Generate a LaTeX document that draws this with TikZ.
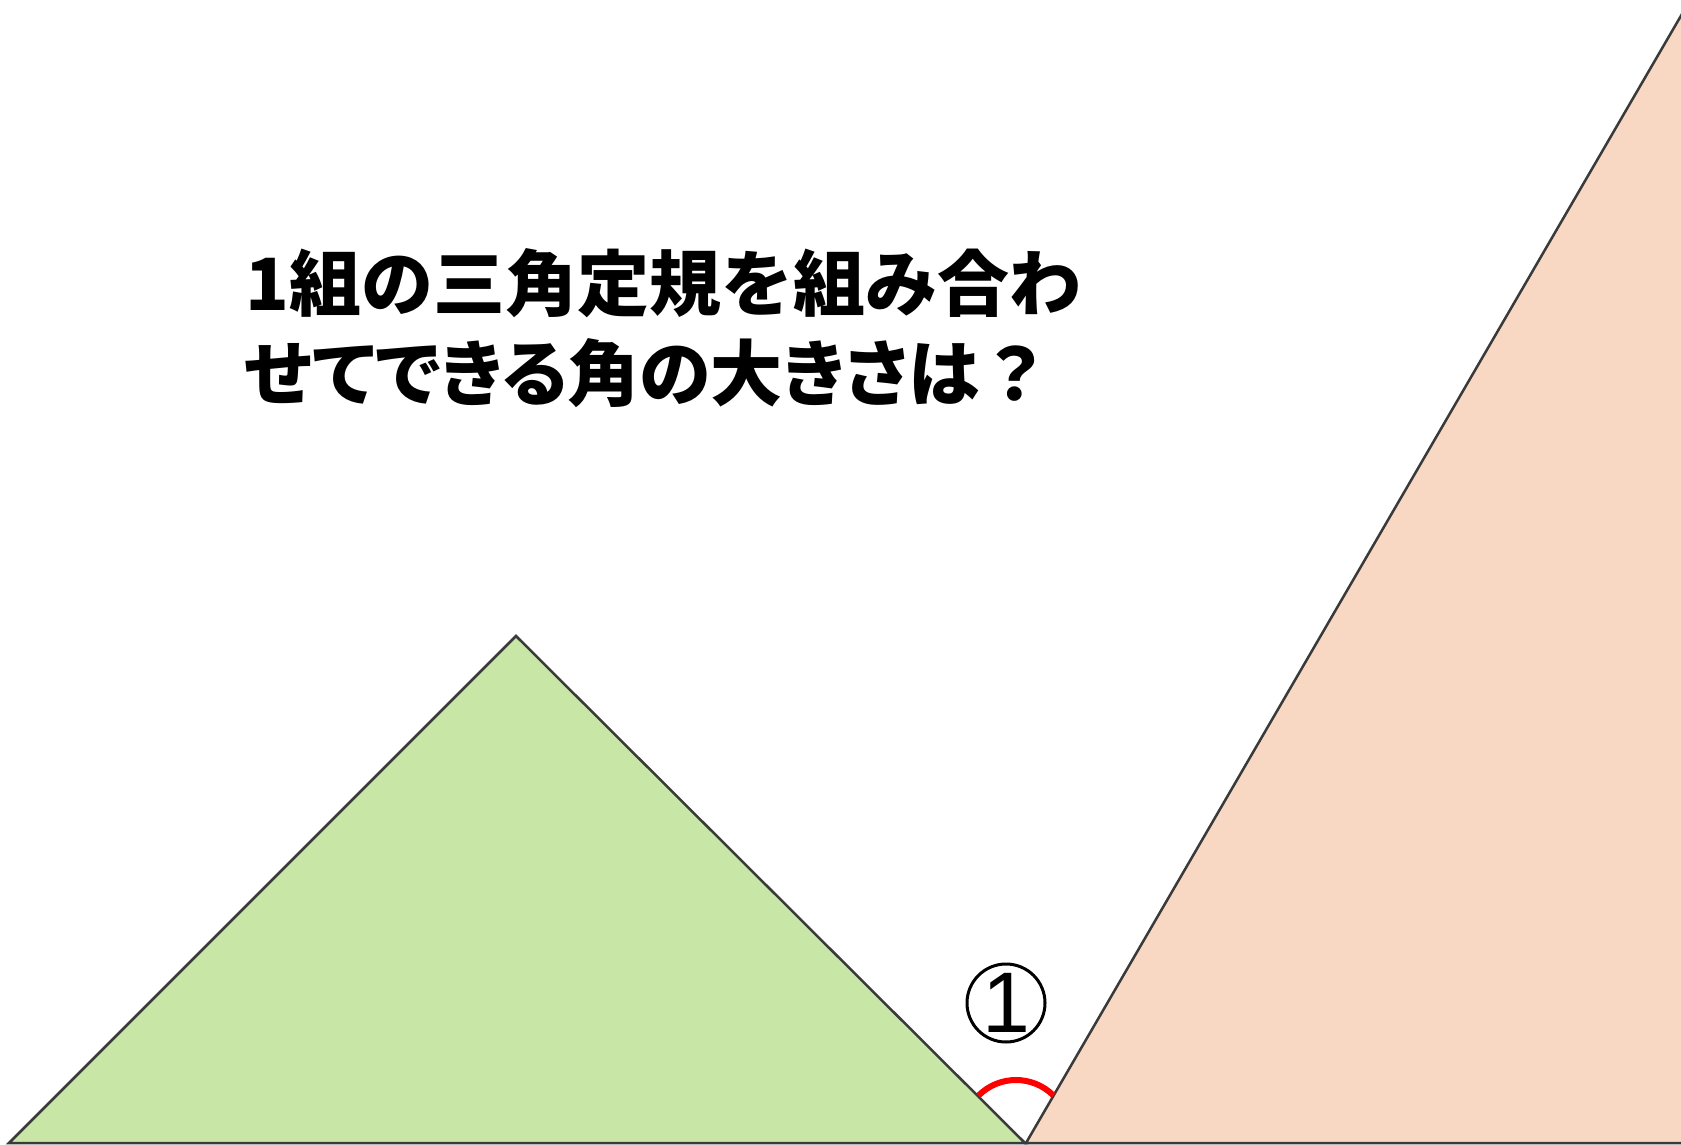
\documentclass[tikz,border=0pt]{standalone}
\usepackage{fontspec}
\newfontfamily\cjk{Noto Sans CJK JP Black}
\newfontfamily\cjkp{Noto Sans CJK JP Black}[RawFeature=+palt]
\newfontfamily\digitfont{Liberation Sans}
\definecolor{tgreen}{HTML}{C8E6A6}
\definecolor{torange}{HTML}{F8D8C2}
\definecolor{edge}{HTML}{3A3A3A}
\tikzset{
  tri/.style={draw=edge, line width=2.5pt, line join=miter},
  title/.style={anchor=west, inner sep=0pt, font=\fontsize{72}{90}\selectfont},
  anglemark/.style={draw=red, line width=6pt},
  numcircle/.style={circle, draw=black, line width=3pt, minimum size=78pt, inner sep=0pt, font=\digitfont\fontsize{86}{86}\selectfont}
}
\begin{document}
\begin{tikzpicture}[x=1pt, y=-1pt]
\useasboundingbox (0,0) rectangle (1681,1145);
\fill[white] (0,0) rectangle (1681,1145);
\begin{scope}
\clip (0,0) rectangle (1681,1145);
% green set square
\coordinate (A) at (9,1143);
\coordinate (B) at (516,636);
\coordinate (C) at (1025,1143);
\filldraw[tri, fill=tgreen] (A) -- (B) -- (C) -- cycle;
% orange set square
\coordinate (D) at (1026,1143);
\coordinate (E) at (1700,-17);
\coordinate (F) at (1800,1143);
\filldraw[tri, fill=torange] (D) -- (E) -- (F) -- cycle;
\end{scope}
% angle mark
\coordinate (O) at (1016,1133);
\draw[anglemark] ([shift={(-135:53)}]O) arc[start angle=-135, end angle=-45, radius=53];
\node[numcircle] (n1) at (1006,1003) {\raisebox{-1pt}{1}};
% title
\node[title, font=\cjk\fontsize{72}{90}\selectfont] (t1) at (245,283) {1組の三角定規を組み合わ};
\node[title, font=\cjkp\fontsize{72}{90}\selectfont] (t2) at (245,373) {せてできる角の大きさは{\cjk ？}};
\end{tikzpicture}
\end{document}
